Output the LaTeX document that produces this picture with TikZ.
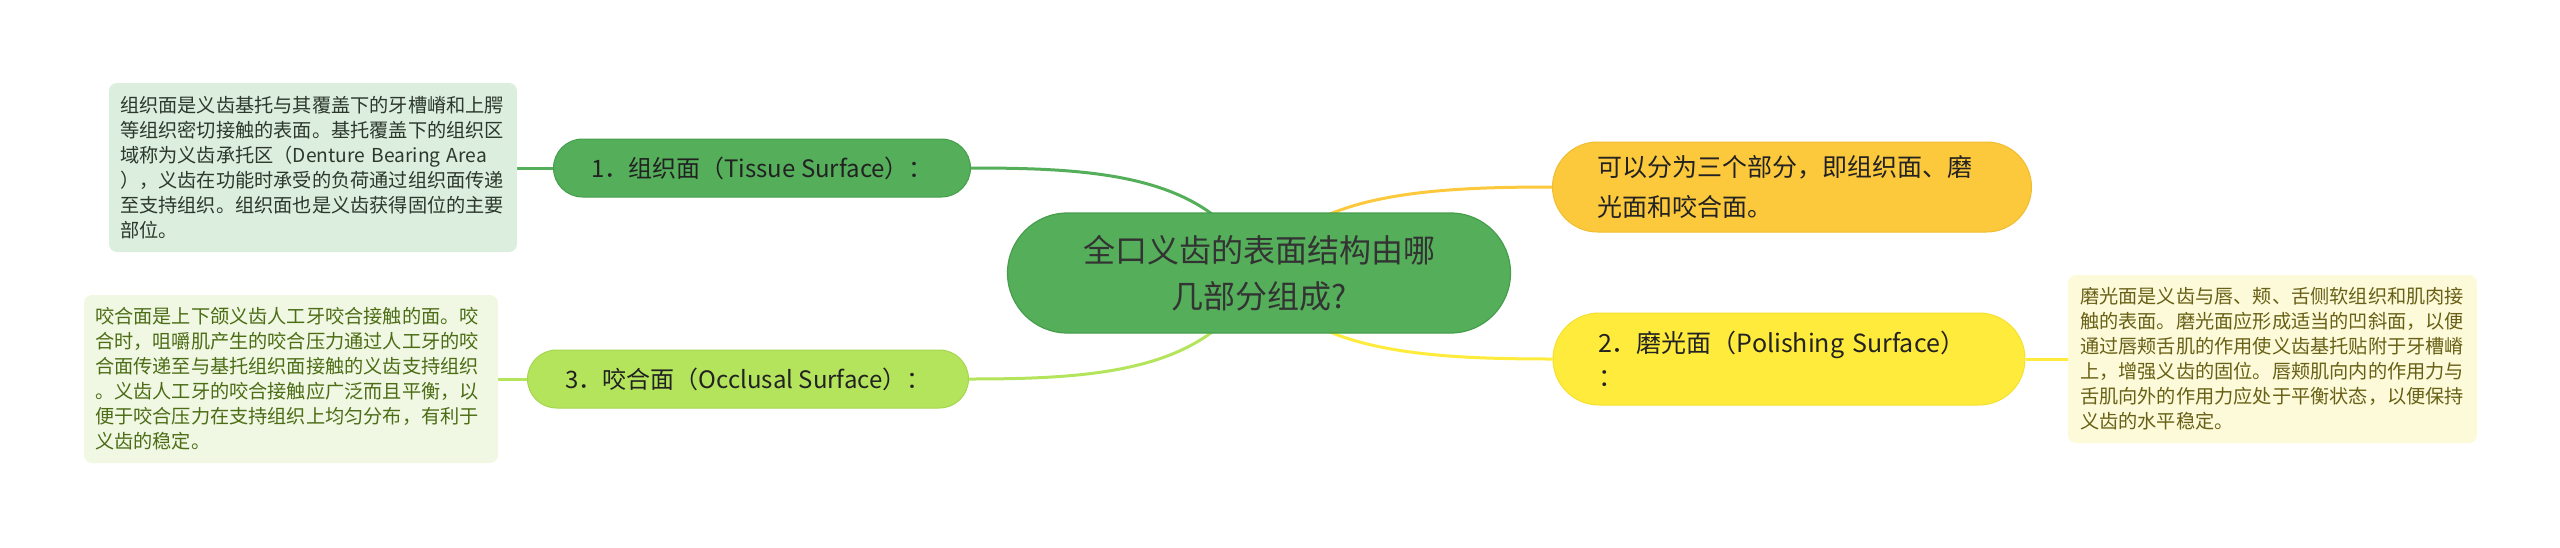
\documentclass[tikz,border=0pt]{standalone}
\usepackage{fontspec}
\setmainfont{Noto Sans CJK SC}
\usetikzlibrary{backgrounds}
\definecolor{cgreen}{RGB}{84,174,90}
\definecolor{cgreenb}{RGB}{70,158,76}
\definecolor{lgreen}{RGB}{180,228,92}
\definecolor{lgreenb}{RGB}{166,214,80}
\definecolor{corange}{RGB}{252,200,60}
\definecolor{corangeb}{RGB}{240,188,48}
\definecolor{cyellow}{RGB}{255,235,59}
\definecolor{cyellowb}{RGB}{245,224,48}
\definecolor{boxA}{RGB}{220,238,221}
\definecolor{boxB}{RGB}{240,248,227}
\definecolor{boxC}{RGB}{253,250,217}
\definecolor{txtA}{RGB}{44,56,44}
\definecolor{txtB}{RGB}{76,108,22}
\definecolor{txtC}{RGB}{104,96,22}
\definecolor{txtD}{RGB}{34,34,34}
\tikzset{
  pill/.style={rounded corners=#1, inner sep=0pt, text=txtD},
  note/.style={rounded corners=4pt, inner sep=0pt, align=left,
    font=\fontsize{9.6pt}{12.5pt}\selectfont},
  conn/.style={line width=1.5pt},
}
\begin{document}
\begin{tikzpicture}[x=0.5pt,y=-0.5pt]
\useasboundingbox (0,0) rectangle (2560,547);
% central
\node[pill=30pt, fill=cgreen, draw=cgreenb, line width=0.6pt, minimum width=251.5pt, minimum height=60pt,
  align=center, font=\fontsize{16pt}{23pt}\selectfont, text=black!80] (c) at (1259,273)
  {全口义齿的表面结构由哪\\几部分组成?};
% branches
\node[pill=14.5pt, fill=cgreen, draw=cgreenb, line width=0.5pt, minimum width=208.5pt, minimum height=29pt,
  font=\fontsize{12pt}{16pt}\selectfont] (n1) at (762,168) {1．组织面（Tissue Surface）：};
\node[pill=14.5pt, fill=lgreen, draw=lgreenb, line width=0.5pt, minimum width=220.5pt, minimum height=29pt,
  font=\fontsize{12pt}{16pt}\selectfont] (n3) at (748,379) {3．咬合面（Occlusal Surface）：};
\node[pill=22.5pt, fill=corange, draw=corangeb, line width=0.5pt, minimum width=239.5pt, minimum height=45pt,
  align=left, text width=194.5pt, font=\fontsize{12.5pt}{20pt}\selectfont] (n0) at (1792,187)
  {可以分为三个部分，即组织面、磨\\光面和咬合面。};
\node[pill=23pt, fill=cyellow, draw=cyellowb, line width=0.5pt, minimum width=236pt, minimum height=46pt,
  align=left, text width=191pt, font=\fontsize{12.5pt}{17pt}\selectfont] (n2) at (1789,359)
  {2．磨光面（Polishing Surface）\\：};
% notes
\node[note, fill=boxA, text=txtA, minimum width=204pt, minimum height=84.5pt, text width=193pt] (b1) at (313,167.5)
  {组织面是义齿基托与其覆盖下的牙槽嵴和上腭\\等组织密切接触的表面。基托覆盖下的组织区\\域称为义齿承托区（Denture Bearing Area\\），义齿在功能时承受的负荷通过组织面传递\\至支持组织。组织面也是义齿获得固位的主要\\部位。};
\node[note, fill=boxB, text=txtB, minimum width=207pt, minimum height=84pt, text width=196pt] (b3) at (291,379)
  {咬合面是上下颌义齿人工牙咬合接触的面。咬\\合时，咀嚼肌产生的咬合压力通过人工牙的咬\\合面传递至与基托组织面接触的义齿支持组织\\。义齿人工牙的咬合接触应广泛而且平衡，以\\便于咬合压力在支持组织上均匀分布，有利于\\义齿的稳定。};
\node[note, fill=boxC, text=txtC, minimum width=204.5pt, minimum height=84pt, text width=192.5pt] (b2) at (2272.5,359)
  {磨光面是义齿与唇、颊、舌侧软组织和肌肉接\\触的表面。磨光面应形成适当的凹斜面，以便\\通过唇颊舌肌的作用使义齿基托贴附于牙槽嵴\\上，增强义齿的固位。唇颊肌向内的作用力与\\舌肌向外的作用力应处于平衡状态，以便保持\\义齿的水平稳定。};
% connectors
\begin{scope}[on background layer]
\draw[conn, cgreen] (c.center) .. controls (1215,175) and (1100,168) .. (n1.east);
\draw[conn, lgreen] (c.center) .. controls (1215,371) and (1100,379) .. (n3.east);
\draw[conn, corange] (c.center) .. controls (1303,195) and (1420,187) .. (n0.west);
\draw[conn, cyellow] (c.center) .. controls (1303,351) and (1420,359) .. (n2.west);
\draw[conn, cgreen] (n1.west) -- (b1.east |- n1.west);
\draw[conn, lgreen] (n3.west) -- (b3.east |- n3.west);
\draw[conn, cyellow] (n2.east) -- (b2.west |- n2.east);
\end{scope}
\end{tikzpicture}
\end{document}
